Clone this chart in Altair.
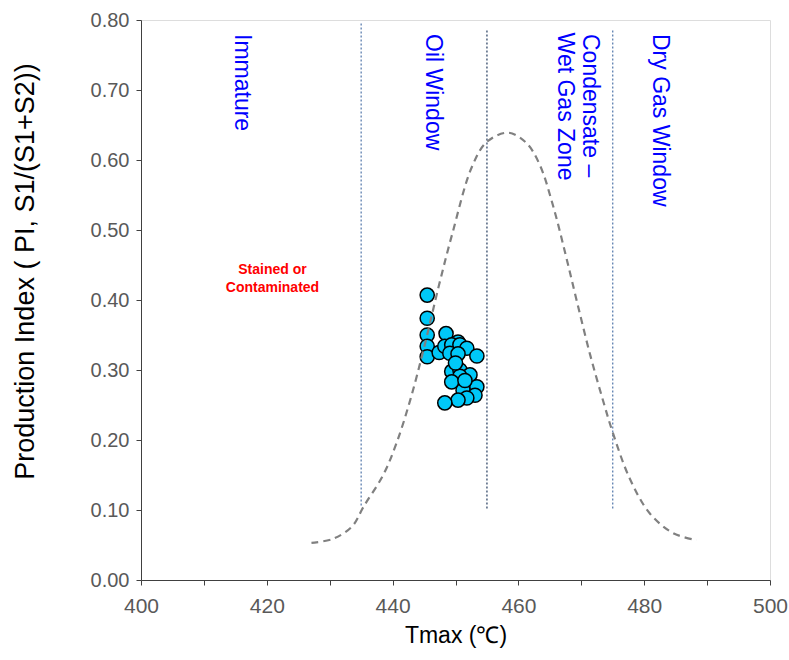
import altair as alt
import pandas as pd

# Rock-Eval samples: Tmax (°C) vs production index
tmax = [445.5, 445.5, 445.5, 445.5, 445.5, 448.5, 450.4, 447.4, 448.3, 449.4,
        450.7, 451.8, 449.1, 450.4, 453.4, 449.4, 450.7, 452.3, 450.7, 449.4,
        451.2, 453.4, 453.1, 451.8, 450.4, 448.3, 450.0, 451.5]
pi = [0.407, 0.374, 0.350, 0.334, 0.319, 0.352, 0.340, 0.325, 0.334, 0.336,
      0.336, 0.331, 0.324, 0.323, 0.320, 0.298, 0.300, 0.293, 0.291, 0.283,
      0.271, 0.276, 0.264, 0.260, 0.257, 0.253, 0.310, 0.285]

# Maturity envelope curve
curve_t = [427.1, 430.6, 433.6, 435.4, 438.5, 440.6, 442.8, 445.0, 447.4, 449.5,
           452.6, 455.0, 458.4, 461.3, 463.4, 465.5, 467.5, 469.3, 471.4, 473.5,
           475.1, 477.7, 480.9, 484.6, 488.3]
curve_pi = [0.053, 0.059, 0.077, 0.105, 0.150, 0.195, 0.257, 0.332, 0.422, 0.495,
            0.590, 0.626, 0.639, 0.624, 0.593, 0.535, 0.465, 0.398, 0.322, 0.255,
            0.208, 0.145, 0.095, 0.067, 0.057]

# Maturity zone boundaries
bound_t = [435, 475]
bound_top = [0.795, 0.785]
bound_bottom = [0.105, 0.10]
mid_t = [455]
mid_top = [0.785]
mid_bottom = [0.10]

# Zone names
zone_labels = ["Immature", "Oil Window", "Condensate –", "Wet Gas Zone", "Dry Gas Window"]
zone_t = [416.0, 446.4, 471.4, 467.4, 482.5]
zone_pi = [0.78, 0.78, 0.78, 0.782, 0.78]

stain_labels = ["Stained or", "Contaminated"]
stain_t = [420.9, 420.9]
stain_pi = [0.443, 0.417]

x_ticks = list(range(400, 505, 5))
y_ticks = [round(i * 0.05, 2) for i in range(17)]

FONT = "Liberation Sans"

samples = pd.DataFrame({"tmax": tmax, "pi": pi})
curve = pd.DataFrame({"tmax": curve_t, "pi": curve_pi})
bounds = pd.DataFrame({"tmax": bound_t, "top": bound_top, "bottom": bound_bottom})
mid = pd.DataFrame({"tmax": mid_t, "top": mid_top, "bottom": mid_bottom})
zones = pd.DataFrame({"tmax": zone_t, "pi": zone_pi, "label": zone_labels})
stain = pd.DataFrame({"tmax": stain_t, "pi": stain_pi, "label": stain_labels})

xscale = alt.Scale(domain=[400, 500], nice=False, zero=False)
yscale = alt.Scale(domain=[0, 0.8], nice=False)

common_axis = dict(
    grid=False, tickSize=5, domainColor="#404040", tickColor="#404040",
    labelColor="#595959", labelFont=FONT, labelFlush=False,
    titleFont=FONT, titleFontWeight="normal", titleColor="black",
)

x_axis = alt.Axis(
    values=x_ticks, labelExpr="datum.value % 20 === 0 ? datum.label : ''",
    labelFontSize=21, labelPadding=10, title="Tmax (℃)", titleFontSize=23,
    titleX=314.5, titleY=55, titleBaseline="middle", **common_axis,
)
y_axis = alt.Axis(
    values=y_ticks, format=".2f",
    labelExpr="round(datum.value * 100) % 10 === 0 ? datum.label : ''",
    labelFontSize=20, labelPadding=7,
    title="Production Index ( PI, S1/(S1+S2))", titleFontSize=27,
    titleX=-116, titleY=251, titleBaseline="middle", titleAngle=-90,
    **common_axis,
)

points = alt.Chart(samples).mark_circle(
    size=200, color="#00C8F8", stroke="black", strokeWidth=1.5, opacity=1
).encode(
    x=alt.X("tmax:Q", scale=xscale, axis=x_axis),
    y=alt.Y("pi:Q", scale=yscale, axis=y_axis),
)

envelope = alt.Chart(curve).mark_line(
    color="#808080", strokeDash=[7, 5], strokeWidth=2.2, interpolate="catmull-rom"
).encode(x=alt.X("tmax:Q", scale=xscale), y=alt.Y("pi:Q", scale=yscale))

bound_rules = alt.Chart(bounds).mark_rule(
    color="#4f74a8", strokeDash=[2, 2], strokeWidth=1.2
).encode(
    x=alt.X("tmax:Q", scale=xscale),
    y=alt.Y("top:Q", scale=yscale), y2="bottom:Q",
)

mid_rule = alt.Chart(mid).mark_rule(
    color="#233a5e", strokeDash=[2, 2], strokeWidth=1.2
).encode(
    x=alt.X("tmax:Q", scale=xscale),
    y=alt.Y("top:Q", scale=yscale), y2="bottom:Q",
)

zone_text = alt.Chart(zones).mark_text(
    angle=90, align="left", baseline="middle", font=FONT, fontSize=23, color="#0000FF"
).encode(
    x=alt.X("tmax:Q", scale=xscale), y=alt.Y("pi:Q", scale=yscale), text="label:N"
)

stain_text = alt.Chart(stain).mark_text(
    align="center", baseline="middle", font=FONT, fontSize=14, fontWeight="bold",
    color="#FF0000"
).encode(
    x=alt.X("tmax:Q", scale=xscale), y=alt.Y("pi:Q", scale=yscale), text="label:N"
)

chart = alt.layer(
    bound_rules, mid_rule, points, envelope, zone_text, stain_text
).properties(
    width=629, height=560,
    autosize=alt.AutoSizeParams(type="none"),
    padding={"left": 141, "top": 20, "right": 19, "bottom": 80},
).configure_view(stroke=None).configure(background="white")

chart.save("out.html", embed_options={"renderer": "svg", "actions": False})
